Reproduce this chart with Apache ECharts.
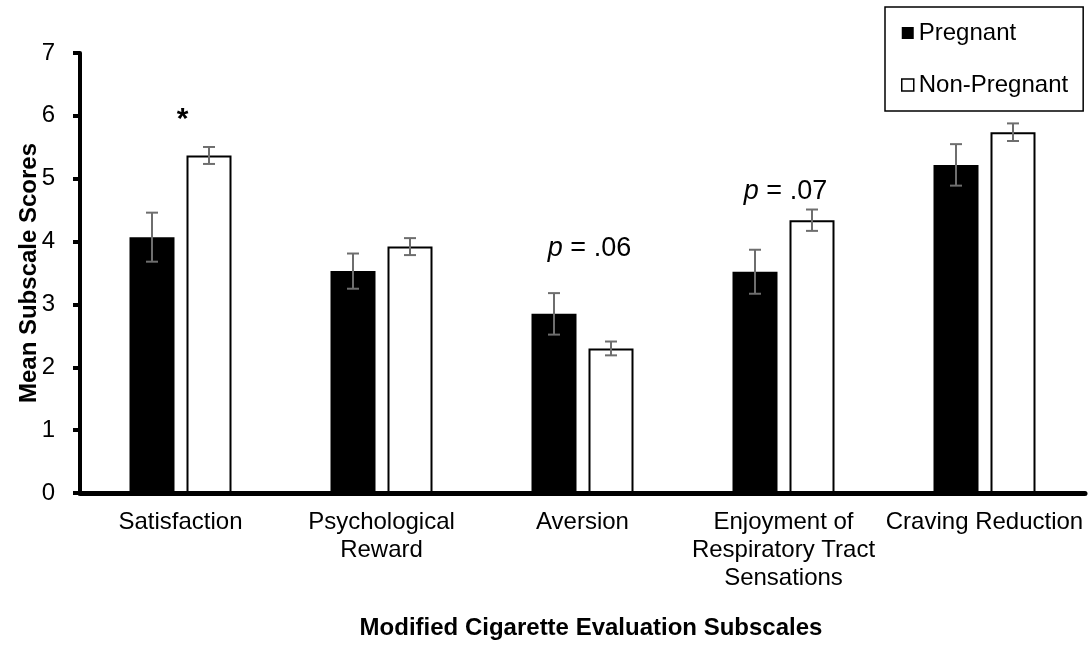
<!DOCTYPE html>
<html>
<head>
<meta charset="utf-8">
<script src="https://cdn.jsdelivr.net/npm/echarts@6/dist/echarts.min.js"></script>
<style>
  html, body { margin: 0; padding: 0; background: #fff; }
  #chart { width: 1091px; height: 645px; }
</style>
</head>
<body>
<div id="chart"></div>
<script>
// Modified Cigarette Evaluation subscale means (± SE) by group
const categories = [
  'Satisfaction',
  'Psychological\nReward',
  'Aversion',
  'Enjoyment of\nRespiratory Tract\nSensations',
  'Craving Reduction'
];
const pregnant = [4.07, 3.53, 2.85, 3.52, 5.22];
const pregnantErr = [0.39, 0.28, 0.33, 0.35, 0.33];
const nonPregnant = [5.37, 3.92, 2.30, 4.34, 5.74];
const nonPregnantErr = [0.135, 0.135, 0.11, 0.17, 0.14];
const yTicks = [0, 1, 2, 3, 4, 5, 6, 7];

// significance notes: category index and the text shown above it
const noteCategory = [0, 2, 3];
const noteText = ['*', 'p = .06', 'p = .07'];
// height (in axis units) at which each note sits
const noteLevel = [5.94, 3.89, 4.80];

const FONT = 'Liberation Sans, Arial, sans-serif';
const BAR_W = 45;
const BAR_GAP_PX = 12;
const OFFSET = (BAR_W + BAR_GAP_PX) / 2;
const NOTE_DX = [2, 7, 2];

function errorBars(offset) {
  return function (params, api) {
    const i = api.value(0);
    const m = api.value(1);
    const e = api.value(2);
    const top = api.coord([i, m + e]);
    const bot = api.coord([i, m - e]);
    const x = top[0] + offset;
    const cap = 6;
    const style = { stroke: '#6e6e6e', lineWidth: 2 };
    return {
      type: 'group',
      children: [
        { type: 'line', shape: { x1: x, y1: top[1], x2: x, y2: bot[1] }, style },
        { type: 'line', shape: { x1: x - cap, y1: top[1], x2: x + cap, y2: top[1] }, style },
        { type: 'line', shape: { x1: x - cap, y1: bot[1], x2: x + cap, y2: bot[1] }, style }
      ]
    };
  };
}

function renderNote(params, api) {
  const k = params.dataIndex;
  const p = api.coord([api.value(0), api.value(1)]);
  const t = noteText[k];
  if (t === '*') {
    return {
      type: 'text',
      x: p[0] + NOTE_DX[k], y: p[1],
      style: { text: '*', font: 'bold 30px ' + FONT, fill: '#000', align: 'center', verticalAlign: 'middle' }
    };
  }
  return {
    type: 'text',
    x: p[0] + NOTE_DX[k], y: p[1],
    style: {
      text: '{i|p}{r|' + t.slice(1) + '}',
      align: 'center', verticalAlign: 'middle',
      rich: {
        i: { fontFamily: FONT, fontSize: 27, fontStyle: 'italic', fill: '#000' },
        r: { fontFamily: FONT, fontSize: 27, fill: '#000' }
      }
    }
  };
}

const chart = echarts.init(document.getElementById('chart'));
chart.setOption({
  animation: false,
  backgroundColor: '#fff',
  textStyle: { fontFamily: FONT, color: '#000' },
  grid: { left: 80, right: 6, top: 53, bottom: 142, containLabel: false },
  legend: {
    orient: 'vertical',
    left: 885, top: 7,
    padding: [12, 15, 12, 16],
    itemGap: 24,
    itemWidth: 12, itemHeight: 12,
    borderColor: '#000', borderWidth: 1.5,
    textStyle: { fontFamily: FONT, fontSize: 24, lineHeight: 28, color: '#000' },
    data: [
      { name: 'Pregnant', icon: 'rect', itemStyle: { color: '#000', borderWidth: 0 } },
      { name: 'Non-Pregnant', icon: 'rect', itemStyle: { color: '#fff', borderColor: '#000', borderWidth: 1.5 } }
    ]
  },
  xAxis: {
    type: 'category',
    data: categories,
    boundaryGap: true,
    axisLine: { lineStyle: { color: '#000', width: 5 } },
    axisTick: { show: false },
    axisLabel: {
      interval: 0, margin: 15,
      fontFamily: FONT, fontSize: 24, lineHeight: 28, color: '#000', align: 'center'
    },
    name: 'Modified Cigarette Evaluation Subscales',
    nameLocation: 'middle',
    nameGap: 123,
    nameMoveOverlap: false,
    nameTextStyle: { fontFamily: FONT, fontSize: 24, fontWeight: 'bold', color: '#000', padding: [0, 0, 0, 17] }
  },
  yAxis: {
    type: 'value',
    min: yTicks[0], max: yTicks[yTicks.length - 1], interval: 1,
    axisLine: { show: true, lineStyle: { color: '#000', width: 4 } },
    axisTick: { show: true, length: 7, lineStyle: { color: '#000', width: 4 } },
    axisLabel: { margin: 25, fontFamily: FONT, fontSize: 24, color: '#000' },
    splitLine: { show: false },
    name: 'Mean Subscale Scores',
    nameLocation: 'middle',
    nameGap: 39,
    nameMoveOverlap: false,
    nameTextStyle: { fontFamily: FONT, fontSize: 24, fontWeight: 'bold', color: '#000' }
  },
  series: [
    {
      name: 'Pregnant', type: 'bar', data: pregnant,
      barWidth: BAR_W, barGap: (BAR_GAP_PX / BAR_W * 100) + '%',
      itemStyle: { color: '#000' }
    },
    {
      name: 'Non-Pregnant', type: 'bar', data: nonPregnant,
      barWidth: BAR_W,
      itemStyle: { color: '#fff', borderColor: '#000', borderWidth: 2 }
    },
    {
      type: 'custom', z: 5,
      renderItem: errorBars(-OFFSET),
      data: pregnant.map((v, i) => [i, v, pregnantErr[i]])
    },
    {
      type: 'custom', z: 5,
      renderItem: errorBars(OFFSET),
      data: nonPregnant.map((v, i) => [i, v, nonPregnantErr[i]])
    },
    {
      type: 'custom', z: 6,
      renderItem: renderNote,
      data: noteCategory.map((c, k) => [c, noteLevel[k]])
    }
  ]
});
</script>
</body>
</html>
